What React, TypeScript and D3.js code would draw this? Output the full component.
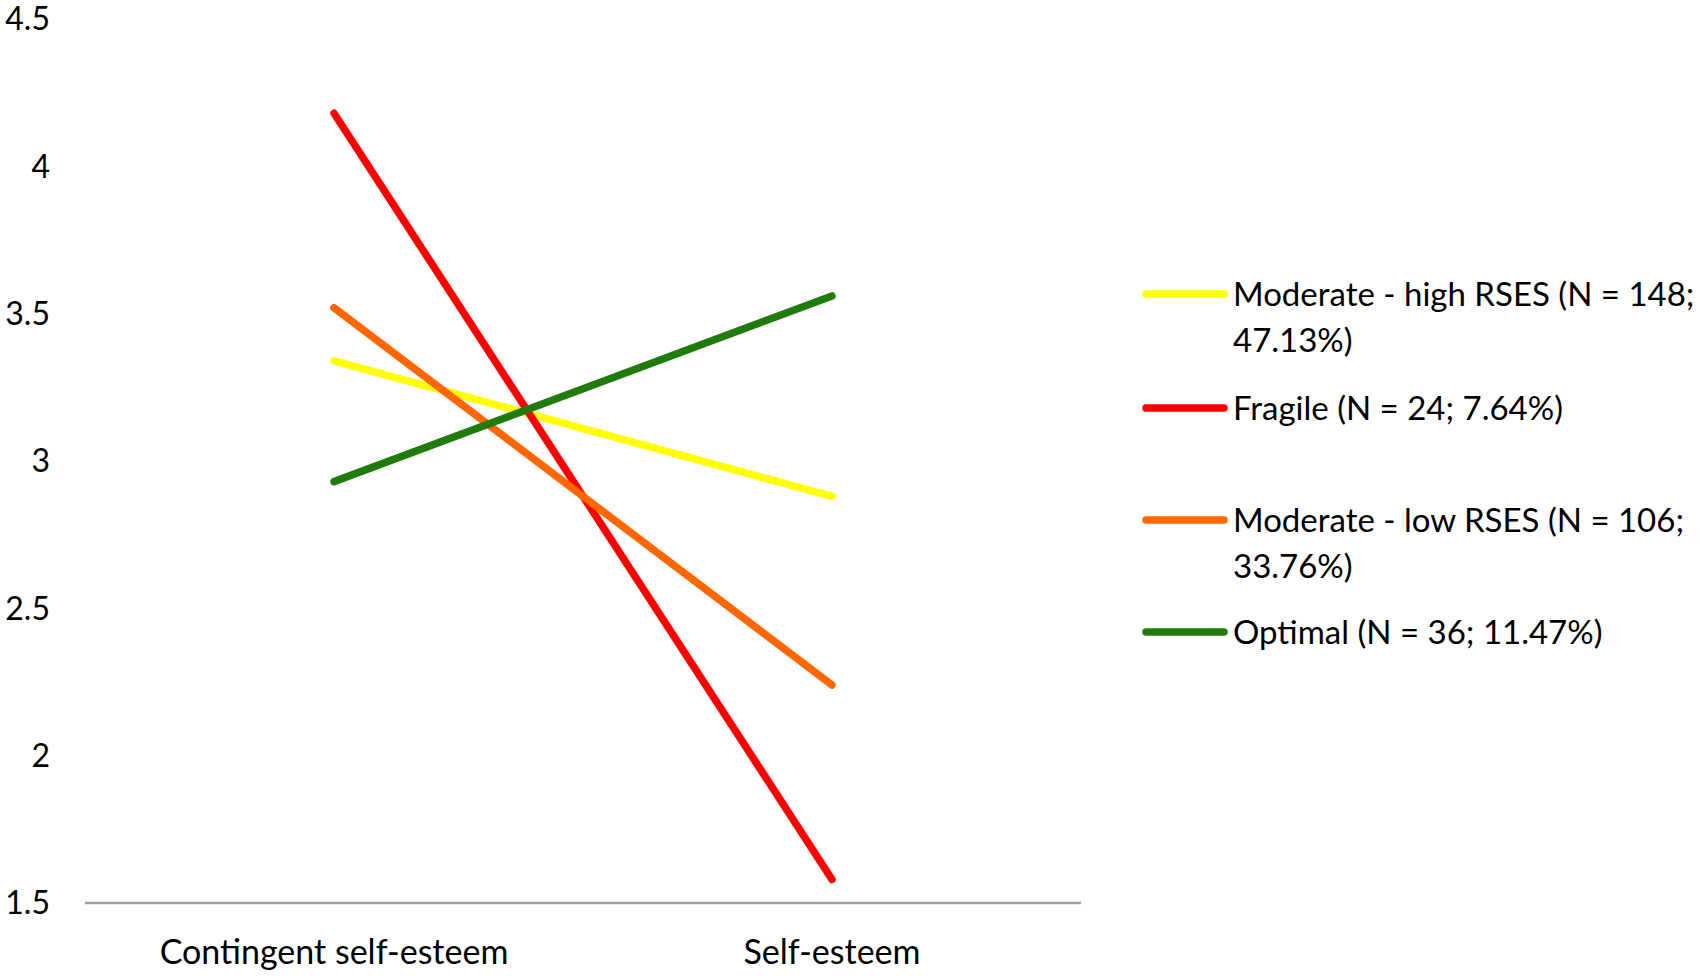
import React from 'react';
import * as d3 from 'd3';

const categories = ['Contingent self-esteem', 'Self-esteem'];

const seriesNames = ['Moderate - high RSES', 'Fragile', 'Moderate - low RSES', 'Optimal'];
const legendLines = [
  ['Moderate - high RSES (N = 148;', '47.13%)'],
  ['Fragile (N = 24; 7.64%)'],
  ['Moderate - low RSES (N = 106;', '33.76%)'],
  ['Optimal (N = 36; 11.47%)'],
];
const moderateHigh = [3.34, 2.88];
const fragile = [4.18, 1.58];
const moderateLow = [3.52, 2.24];
const optimal = [2.93, 3.56];
const yTicks = [1.5, 2, 2.5, 3, 3.5, 4, 4.5];

const colors = ['#FFFF00', '#FF0000', '#FF6600', '#207A0C'];
const seriesValues = [moderateHigh, fragile, moderateLow, optimal];

const W = 1700;
const H = 976;
const font = 'Lato, Carlito, Calibri, sans-serif';

const App: React.FC = () => {
  const x = d3.scaleBand<string>().domain(categories).range([85, 1081]);
  const y = d3.scaleLinear().domain([1.5, 4.5]).range([903, 19]);
  const cx = (c: string) => (x(c) || 0) + x.bandwidth() / 2;

  const line = d3
    .line<number>()
    .x((_, i) => cx(categories[i]))
    .y(d => y(d));

  // legend rows: first text line of each entry
  const legendY = [294, 408, 520, 632];

  return (
    <svg
      width={W}
      height={H}
      viewBox={`0 0 ${W} ${H}`}
      style={{ position: 'absolute', left: 0, top: 0, background: '#fff' }}
    >
      {/* Y tick labels */}
      {yTicks.map(t => (
        <text
          key={t}
          x={50}
          y={y(t)}
          dy="0.35em"
          textAnchor="end"
          fontFamily={font}
          fontSize={32}
          fill="#000"
        >
          {t}
        </text>
      ))}

      {/* X axis line */}
      <line x1={85} x2={1081} y1={y(1.5)} y2={y(1.5)} stroke="#a0a0a0" strokeWidth={2.5} />

      {/* Category labels */}
      {categories.map(c => (
        <text
          key={c}
          x={cx(c)}
          y={952}
          dy="0.35em"
          textAnchor="middle"
          fontFamily={font}
          fontSize={34}
          fill="#000"
        >
          {c}
        </text>
      ))}

      {/* Series lines */}
      {seriesValues.map((vals, i) => (
        <path
          key={seriesNames[i]}
          d={line(vals) || ''}
          fill="none"
          stroke={colors[i]}
          strokeWidth={7.5}
          strokeLinecap="round"
        />
      ))}

      {/* Legend */}
      {seriesNames.map((name, i) => (
        <g key={name}>
          <line
            x1={1146}
            x2={1224}
            y1={legendY[i]}
            y2={legendY[i]}
            stroke={colors[i]}
            strokeWidth={7.5}
            strokeLinecap="round"
          />
          {legendLines[i].map((txt, j) => (
            <text
              key={j}
              x={1233}
              y={legendY[i] + j * 46}
              dy="0.35em"
              fontFamily={font}
              fontSize={33}
              fill="#000"
            >
              {txt}
            </text>
          ))}
        </g>
      ))}
    </svg>
  );
};

export default App;
